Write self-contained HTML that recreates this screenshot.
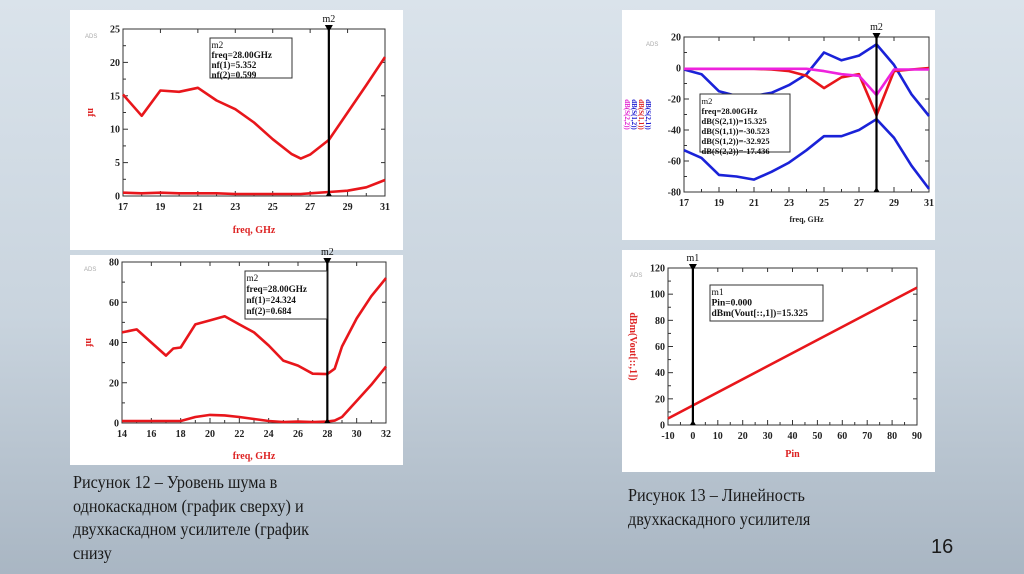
<!DOCTYPE html>
<html><head><meta charset="utf-8">
<style>
html,body{margin:0;padding:0;}
body{width:1024px;height:574px;overflow:hidden;position:relative;font-family:"Liberation Serif",serif;
background:linear-gradient(180deg,#dae3eb 0%,#c9d4de 55%,#a9b6c3 100%);}
svg{position:absolute;left:0;top:0;}
.cap{position:absolute;font-family:"Liberation Serif",serif;font-size:18px;line-height:23.5px;color:#1a1a1a;transform-origin:0 0;transform:scaleX(0.9);white-space:nowrap;}
.num{position:absolute;left:931px;top:536px;font-family:"Liberation Sans",sans-serif;font-size:20px;color:#1a1a1a;}
</style></head><body>
<svg id="s" width="1024" height="574"></svg>
<div class="cap" style="left:73px;top:471px">Рисунок 12 – Уровень шума в<br>однокаскадном (график сверху) и<br>двухкаскадном усилителе (график<br>снизу</div>
<div class="cap" style="left:628px;top:484px">Рисунок 13 – Линейность<br>двухкаскадного усилителя</div>
<div class="num">16</div>
<script>
// Chart 1: single-stage noise
const c1x=[17,18,19,20,21,22,23,24,25,26,26.5,27,28,29,30,31];
const c1nf1=[15.2,12,15.8,15.6,16.2,14.3,13,11,8.5,6.3,5.6,6.2,8.4,12.5,16.6,20.8];
const c1nf2=[0.5,0.4,0.5,0.4,0.4,0.4,0.3,0.3,0.3,0.3,0.3,0.4,0.6,0.8,1.3,2.4];
const c1yt=[0,5,10,15,20,25];
const c1xt=[17,19,21,23,25,27,29,31];
// Chart 2: two-stage noise
const c2x=[14,15,16,17,17.5,18,19,20,21,22,23,24,25,26,27,28,28.5,29,30,31,32];
const c2nf1=[45,46.5,40,33.5,37,37.5,49,51,53,49,45,38.5,31,28.5,24.5,24.3,27,38,52,63,72];
const c2nf2=[1,1,1,1,1,1,3,4,3.8,3,2,1,0.5,0.7,0.5,0.7,1.2,3,11,19,28];
const c2yt=[0,20,40,60,80];
const c2xt=[14,16,18,20,22,24,26,28,30,32];
// Chart 3: S-parameters
const c3x=[17,18,19,20,21,22,23,24,25,26,27,28,29,30,31];
const s21=[-1,-4,-15,-18,-18,-16,-11,-4,10,5,8,15.3,2,-17,-31];
const s12=[-53,-58,-69,-70,-72,-67,-61,-53,-44,-44,-40,-33,-45,-63,-78];
const s11=[-0.5,-0.5,-0.5,-0.5,-0.5,-1,-2,-5,-13,-6,-4,-30.5,-2,-1,0];
const s22=[-0.5,-0.5,-0.5,-0.5,-0.5,-0.5,-0.5,-0.5,-2,-4,-5,-17.4,-1,-1,-1];
const c3yt=[-80,-60,-40,-20,0,20];
const c3xt=[17,19,21,23,25,27,29,31];
// Chart 4: linearity
const c4x=[-10,90];
const c4y=[5,105];
const c4yt=[0,20,40,60,80,100,120];
const c4xt=[-10,0,10,20,30,40,50,60,70,80,90];

const NS='http://www.w3.org/2000/svg';
const svg=document.getElementById('s');
function el(tag,attrs,parent,text){const e=document.createElementNS(NS,tag);for(const k in attrs)e.setAttribute(k,attrs[k]);if(text!==undefined)e.textContent=text;(parent||svg).appendChild(e);return e;}

function chart(o){
  const g=el('g',{});
  
  
  const bg=el('rect',{x:o.panel[0],y:o.panel[1],width:o.panel[2],height:o.panel[3],fill:'#fff'},g);
  
  
  const [L,R,T,B]=o.plot;
  const sx=v=>L+(v-o.xr[0])/(o.xr[1]-o.xr[0])*(R-L);
  const sy=v=>B-(v-o.yr[0])/(o.yr[1]-o.yr[0])*(B-T);
  const fr=el('rect',{x:L,y:T,width:R-L,height:B-T,fill:'none',stroke:'#333','stroke-width':1},g);
  
  
  el('text',{x:L-38,y:T+9,'font-size':6,fill:'#aaa','font-family':'Liberation Sans,sans-serif'},g,'ADS');
  o.yt.forEach((v,i)=>{
    const y=sy(v);
    el('line',{x1:L,x2:L+5,y1:y,y2:y,stroke:'#333'},g);
    el('line',{x1:R,x2:R-4,y1:y,y2:y,stroke:'#333'},g);
    if(i<o.yt.length-1){const ym=sy((v+o.yt[i+1])/2);el('line',{x1:L,x2:L+3,y1:ym,y2:ym,stroke:'#333'},g);}
    const t=el('text',{x:L-3,y:y+3.5,'font-size':10,'font-weight':'bold','text-anchor':'end',fill:'#222'},g,String(v));
    
    
  });
  o.xt.forEach((v,i)=>{
    const x=sx(v);
    el('line',{x1:x,x2:x,y1:B,y2:B-5,stroke:'#333'},g);
    el('line',{x1:x,x2:x,y1:T,y2:T+4,stroke:'#333'},g);
    if(i<o.xt.length-1){const xm=sx((v+o.xt[i+1])/2);el('line',{x1:xm,x2:xm,y1:B,y2:B-3,stroke:'#333'},g);}
    const t=el('text',{x:x,y:B+14,'font-size':10,'font-weight':'bold','text-anchor':'middle',fill:'#222'},g,String(v));
    
    
  });
  const xl=el('text',{x:(L+R)/2,y:B+o.xlOff,'font-size':o.xlSize||10,'font-weight':'bold','text-anchor':'middle',fill:o.xlColor||'#d22'},g,o.xlabel);
  
  
  o.ylabels.forEach((yl,i)=>{
    const x=o.ylx+i*7,y=(T+B)/2;
    const t=el('text',{x:x,y:y,'font-size':o.ylSize||10,'font-weight':'bold','text-anchor':'middle',fill:yl[1],transform:`rotate(90 ${x} ${y})`},g,yl[0]);
    
    
  });
  o.series.forEach(s=>{
    const d=s.x.map((v,i)=>(i?'L':'M')+sx(v).toFixed(1)+' '+sy(s.y[i]).toFixed(1)).join(' ');
    const p=el('path',{d:d,fill:'none',stroke:s.c,'stroke-width':2.6,'stroke-linejoin':'round'},g);
    
    
  });
  const mx=sx(o.m.x);
  const ml=el('line',{x1:mx,x2:mx,y1:T-2,y2:B,stroke:'#000','stroke-width':2.2},g);
  
  
  el('path',{d:`M${mx-4} ${T-4} L${mx+4} ${T-4} L${mx} ${T+3} Z`,fill:'#000'},g);
  el('path',{d:`M${mx-3} ${B} L${mx+3} ${B} L${mx} ${B-5} Z`,fill:'#000'},g);
  const mt=el('text',{x:mx,y:T-7,'font-size':10,'text-anchor':'middle',fill:'#111'},g,o.m.label);
  
  
  const [bx,by,bw,bh]=o.box;
  const br=el('rect',{x:bx,y:by,width:bw,height:bh,fill:'#fff',stroke:'#333','stroke-width':1},g);
  
  
  o.boxLines.forEach((ln,i)=>{
    el('text',{x:bx+1.5,y:by+10+i*o.boxLh,'font-size':o.boxFs,'font-weight':i?'bold':'normal',fill:'#111'},g,ln);
  });
}

chart({name:'single-stage-noise-chart',panel:[70,10,333,240],plot:[123,385,29,196],xr:[17,31],yr:[0,25],yt:c1yt,xt:c1xt,
 xlabel:'freq, GHz',xlOff:37,ylabels:[['nf','#d22']],ylx:88,
 series:[{name:'nf1-line',x:c1x,y:c1nf1,c:'#e8161b'},{name:'nf2-line',x:c1x,y:c1nf2,c:'#e8161b'}],
 m:{x:28,label:'m2'},box:[210,38,82,40],boxLines:['m2','freq=28.00GHz','nf(1)=5.352','nf(2)=0.599'],boxLh:10,boxFs:9.2});

chart({name:'two-stage-noise-chart',panel:[70,255,333,210],plot:[122,386,262,423],xr:[14,32],yr:[0,80],yt:c2yt,xt:c2xt,
 xlabel:'freq, GHz',xlOff:36,ylabels:[['nf','#d22']],ylx:86,
 series:[{name:'nf1-line',x:c2x,y:c2nf1,c:'#e8161b'},{name:'nf2-line',x:c2x,y:c2nf2,c:'#e8161b'}],
 m:{x:28,label:'m2'},box:[245,271,82,48],boxLines:['m2','freq=28.00GHz','nf(1)=24.324','nf(2)=0.684'],boxLh:11,boxFs:9.2});

chart({name:'s-parameters-chart',panel:[622,10,313,230],plot:[684,929,37,192],xr:[17,31],yr:[-80,20],yt:c3yt,xt:c3xt,
 xlabel:'freq, GHz',xlOff:30,xlColor:'#222',xlSize:8,ylSize:7,
 ylabels:[['dB(S(2,2))','#e020d0'],['dB(S(1,2))','#1a1ad0'],['dB(S(1,1))','#d22'],['dB(S(2,1))','#1a1ad0']],ylx:625,
 series:[{name:'s21-line',x:c3x,y:s21,c:'#1a22d8'},{name:'s12-line',x:c3x,y:s12,c:'#1a22d8'},{name:'s11-line',x:c3x,y:s11,c:'#e8161b'},{name:'s22-line',x:c3x,y:s22,c:'#ee22dd'}],
 m:{x:28,label:'m2'},box:[700,94,90,58],boxLines:['m2','freq=28.00GHz','dB(S(2,1))=15.325','dB(S(1,1))=-30.523','dB(S(1,2))=-32.925','dB(S(2,2))=-17.436'],boxLh:10,boxFs:8.5});

chart({name:'linearity-chart',panel:[622,250,313,222],plot:[668,917,268,425],xr:[-10,90],yr:[0,120],yt:c4yt,xt:c4xt,
 xlabel:'Pin',xlOff:32,ylabels:[['dBm(Vout[::,1])','#d22']],ylx:630,
 series:[{name:'vout-line',x:c4x,y:c4y,c:'#e8161b'}],
 m:{x:0,label:'m1'},box:[710,285,113,36],boxLines:['m1','Pin=0.000','dBm(Vout[::,1])=15.325'],boxLh:10.5,boxFs:9.5});
</script>
</body></html>
